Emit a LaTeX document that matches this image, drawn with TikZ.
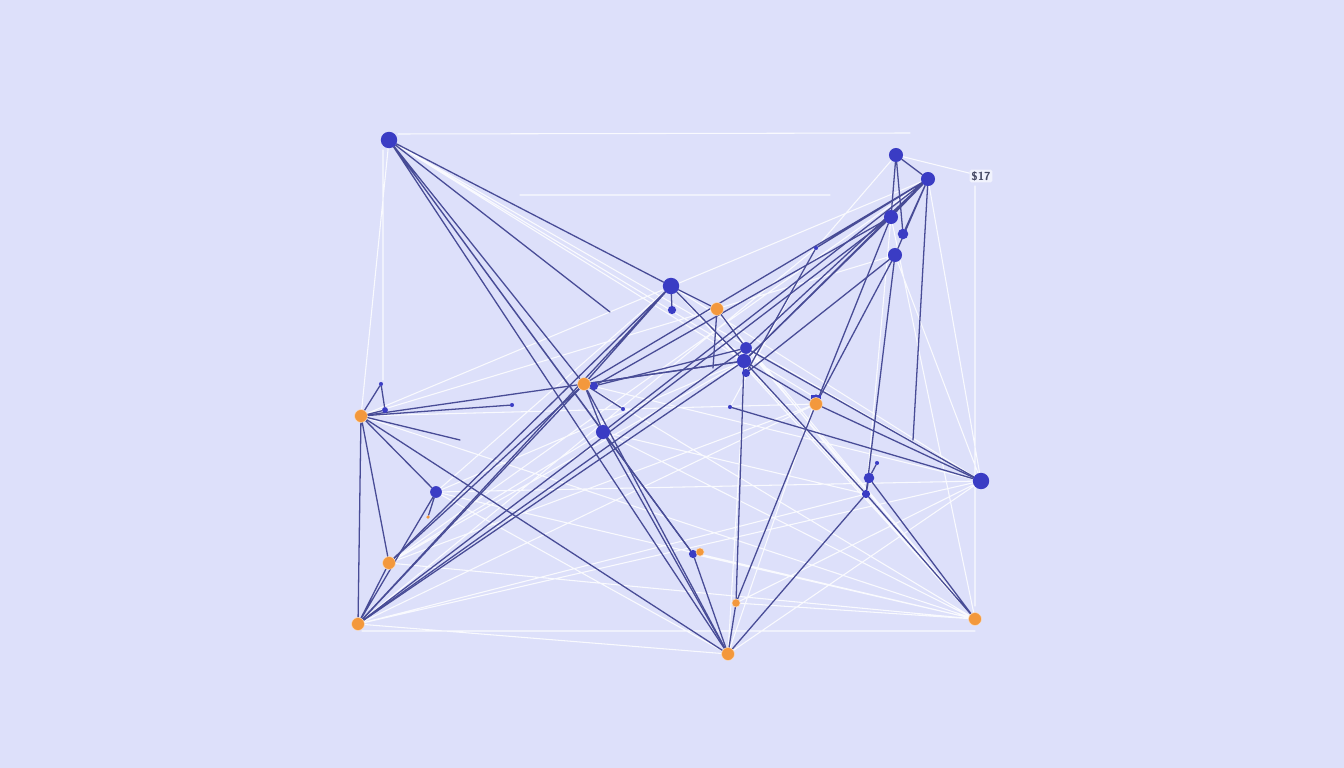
\documentclass[tikz,border=0pt]{standalone}
\usepackage{tikz}
\usetikzlibrary{positioning}
\definecolor{paper}{RGB}{221,224,250}
\definecolor{navyline}{RGB}{72,76,150}
\definecolor{hubblue}{RGB}{58,60,196}
\definecolor{hubor}{RGB}{243,152,60}
\definecolor{tagtext}{RGB}{70,74,100}
\pgfdeclarelayer{paperlayer}
\pgfdeclarelayer{edgelayer}
\pgfsetlayers{paperlayer,edgelayer,main}
\tikzset{
  bighub/.style={circle,fill=hubblue,inner sep=0pt,minimum size=14pt},
  hub/.style={circle,fill=hubblue,inner sep=0pt,minimum size=12pt},
  minihub/.style={circle,fill=hubblue,inner sep=0pt,minimum size=7pt},
  speck/.style={circle,fill=hubblue,inner sep=0pt,minimum size=3.5pt},
  orhub/.style={circle,fill=hubor,draw=white!70!hubor,line width=0.4pt,inner sep=0pt,minimum size=11pt},
  orsmall/.style={circle,fill=hubor,draw=white!70!hubor,line width=0.4pt,inner sep=0pt,minimum size=7pt},
  link/.style={draw=navyline,line width=1.1pt,line cap=round},
  thread/.style={draw=white,opacity=0.85,line width=0.9pt,line cap=round}
}
\begin{document}
\begin{tikzpicture}[x=0.03cm,y=-0.03cm]
\begin{pgfonlayer}{paperlayer}
\fill[paper] (0,0) rectangle (1344,768);
\end{pgfonlayer}

% hubs
\node[bighub] (a) at (389,140) {};
\node[hub] (b) at (896,155) {};
\node[hub] (c) at (928,179) {};
\node[hub] (d) at (891,217) {};
\node[minihub,minimum width=9pt] (d2) at (903,234) {};
\node[hub] (e) at (895,255) {};
\node[bighub] (f) at (671,286) {};
\node[minihub] (f2) at (672,310) {};
\node[orhub] (g) at (717,309) {};
\node[minihub,minimum width=10pt] (h) at (746,348) {};
\node[hub] (i) at (744,361) {};
\node[minihub] (i2) at (746,373) {};
\node[orhub] (j) at (584,384) {};
\node[minihub] (j2) at (594,386) {};
\node[minihub,rectangle,minimum width=8pt,minimum height=5pt] (k2) at (816,398) {};
\node[orhub] (k) at (816,404) {};
\node[orhub] (l) at (361,416) {};
\node[minihub,minimum size=5pt] (l2) at (385,410) {};
\node[speck] (l3) at (381,384) {};
\node[hub] (m) at (603,432) {};
\node[bighub] (n) at (981,481) {};
\node[hub,minimum size=10pt] (o) at (436,492) {};
\node[circle,fill=hubor,inner sep=0pt,minimum size=3pt] (o2) at (428,517) {};
\node[orhub] (p) at (389,563) {};
\node[orhub] (q) at (358,624) {};
\node[orhub] (r) at (728,654) {};
\node[orsmall] (s) at (736,603) {};
\node[minihub] (t) at (693,554) {};
\node[orsmall] (t2) at (700,552) {};
\node[minihub] (u) at (866,494) {};
\node[minihub,minimum width=9pt] (u2) at (869,478) {};
\node[speck] (u3) at (877,463) {};
\node[orhub] (v) at (975,619) {};
\node[speck] (w) at (512,405) {};
\node[speck] (x) at (816,248) {};
\node[speck] (y) at (623,409) {};
\node[speck] (z) at (730,407) {};
\node[fill=white!60!paper,rounded corners=1.5pt,inner sep=1.5pt,text=tagtext,font=\sffamily\bfseries\fontsize{10}{11}\selectfont] (tag) at (981,176) {\$17};

% loose ends
\coordinate (topstart) at (398,134);
\coordinate (topend) at (910,133);
\coordinate (leftup) at (383,150);
\coordinate (leftdown) at (383,380);
\coordinate (rightup) at (975,186);
\coordinate (rightdown) at (975,606);
\coordinate (bl) at (362,631);
\coordinate (br) at (975,631);
\coordinate (astop) at (610,312);
\coordinate (cstop) at (913,440);
\coordinate (lstop) at (460,440);
\coordinate (gstop) at (713,368);
\coordinate (midline) at (520,195);
\coordinate (midend) at (830,195);

\begin{pgfonlayer}{edgelayer}
% faint white mesh
\draw[thread] (topstart) -- (topend) (leftup) -- (leftdown) (bl) -- (br) (b) -- (tag)
  (rightup) -- (rightdown) (midline) -- (midend) (a) -- (n) (a) -- (i) (a) -- (k2)
  (f) -- (n) (f) -- (u) (j) -- (n) (l) -- (c) (l) -- (e) (l) -- (k) (o) -- (f)
  (o) -- (i) (p) -- (m) (p) -- (k) (p) -- (i) (q) -- (u) (q) -- (k) (q) -- (n)
  (r) -- (n) (r) -- (k2) (r) -- (h) (s) -- (n) (s) -- (v) (t) -- (v) (m) -- (v)
  (g) -- (u) (g) -- (v) (h) -- (v) (i) -- (v) (d) -- (v) (c) -- (n) (e) -- (n)
  (b) -- (x) (l) -- (v) (o) -- (n) (q) -- (x) (p) -- (c) (l) -- (a) (o) -- (r)
  (m) -- (u) (j) -- (v) (f) -- (v) (x) -- (z) (q) -- (r) (p) -- (v) (o) -- (v)
  (d) -- (u);
% navy links
\draw[link] (a) -- (f) (a) -- (j) (a) -- (m) (a) -- (r) (a) -- (t) (a) -- (astop);
\draw[link] (b) -- (c) (b) -- (d) (b) -- (d2);
\draw[link] (c) -- (d) (c) -- (e) (c) -- (h) (c) -- (i) (c) -- (j) (c) -- (m)
  (c) -- (cstop) (c) -- (x) (c) -- (d2);
\draw[link] (d) -- (j2) (d) -- (i) (d) -- (q) (d) -- (k);
\draw[link] (e) -- (k) (e) -- (u) (e) -- (i2);
\draw[link] (f) -- (g) (f) -- (f2) (f) -- (i) (f) -- (j) (f) -- (q) (f) -- (p);
\draw[link] (g) -- (h) (g) -- (gstop) (x) -- (i2);
\draw[link] (h) -- (j2) (h) -- (n) (h) -- (q);
\draw[link] (i) -- (s) (i) -- (q) (i) -- (u) (i) -- (k) (i) -- (l);
\draw[link] (j) -- (p) (j) -- (q) (j) -- (r) (j) -- (m) (j) -- (i);
\draw[link] (k) -- (n) (k) -- (s) (k2) -- (k);
\draw[link] (l) -- (w) (l) -- (o) (l) -- (p) (l) -- (q) (l) -- (l2) (l) -- (l3)
  (l) -- (r) (l) -- (lstop) (l2) -- (l3);
\draw[link] (m) -- (r) (m) -- (t) (o) -- (o2) (o) -- (q) (p) -- (q);
\draw[link] (r) -- (s) (r) -- (t) (r) -- (u) (u) -- (u2) (u2) -- (u3)
  (u) -- (v) (u2) -- (v) (y) -- (j) (z) -- (n);
\end{pgfonlayer}
\end{tikzpicture}
\end{document}
